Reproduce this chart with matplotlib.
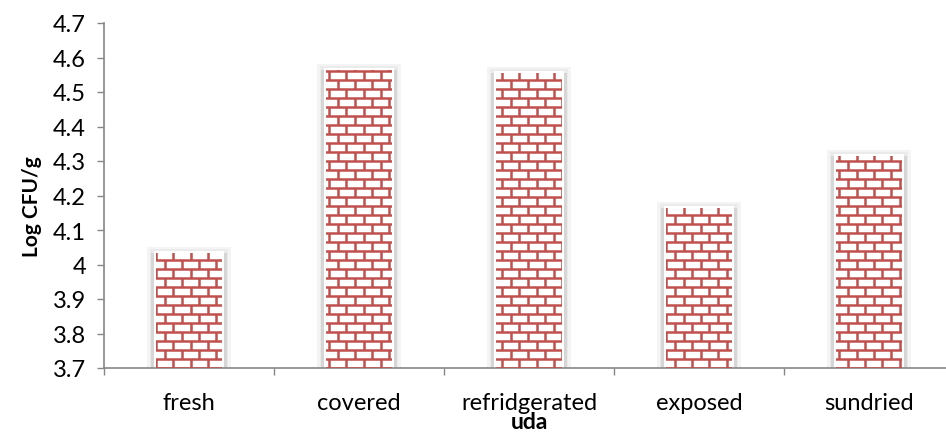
import numpy as np
import matplotlib
matplotlib.use("Agg")
import matplotlib.pyplot as plt
from matplotlib.patches import Rectangle
from matplotlib.collections import LineCollection
from matplotlib.transforms import IdentityTransform

categories = ["fresh", "covered", "refridgerated", "exposed", "sundried"]
log_cfu = [4.04, 4.57, 4.56, 4.17, 4.32]
y_ticks = [3.7, 3.8, 3.9, 4.0, 4.1, 4.2, 4.3, 4.4, 4.5, 4.6, 4.7]
y_tick_labels = ["3.7", "3.8", "3.9", "4", "4.1", "4.2", "4.3", "4.4", "4.5", "4.6", "4.7"]

W, H, DPI = 946, 435, 100
plt.rcParams["font.family"] = ["Lato", "DejaVu Sans"]

fig = plt.figure(figsize=(W / DPI, H / DPI), dpi=DPI)
ax_l, ax_b, ax_w, ax_h = 104, 66, 850, 345
ax = fig.add_axes([ax_l / W, ax_b / H, ax_w / W, ax_h / H])
ax.set_xlim(-0.5, len(categories) - 0.5)
ax.set_ylim(3.7, 4.7)

px_x = (len(categories)) / ax_w      # data units per pixel, x
px_y = 1.0 / ax_h                    # data units per pixel, y
base = 3.7
bar_w = 70 * px_x
brick_red = "#C0504D"

# brick grid in pixel space, covering the axes area
row_h, brick_w = 9.0, 17.3
segs = []
y = ax_b
row = 0
while y < ax_b + ax_h + row_h:
    segs.append([(ax_l, y), (ax_l + ax_w, y)])
    off = 0 if row % 2 == 0 else brick_w / 2
    x = ax_l + off
    while x < ax_l + ax_w:
        segs.append([(x, y), (x, y + row_h)])
        x += brick_w
    y += row_h
    row += 1

for i, v in enumerate(log_cfu):
    h = v - base
    # soft grey shadow around each bar
    ax.add_patch(Rectangle((i - bar_w / 2 - 7 * px_x, base), bar_w + 14 * px_x,
                           h + 4 * px_y, facecolor="#f4f4f4", edgecolor="none", zorder=1))
    ax.add_patch(Rectangle((i - bar_w / 2 - 4 * px_x, base), bar_w + 8 * px_x,
                           h + 2 * px_y, facecolor="#ebebeb", edgecolor="none", zorder=1.1))
    for side in (-1, 1):
        xs = i + side * (bar_w / 2 + 1.5 * px_x) - 1.5 * px_x
        ax.add_patch(Rectangle((xs, base), 3 * px_x, h - 2 * px_y,
                               facecolor="#d6d6d6", edgecolor="none", zorder=1.2))
    bar = Rectangle((i - bar_w / 2, base), bar_w, h, facecolor="white",
                    edgecolor="none", zorder=2)
    ax.add_patch(bar)
    inner = Rectangle((i - bar_w / 2 + 2 * px_x, base), bar_w - 4 * px_x, h - 2 * px_y,
                      transform=ax.transData)
    lc = LineCollection(segs, colors=brick_red, linewidths=1.8,
                        transform=IdentityTransform(), zorder=3)
    ax.add_collection(lc)
    lc.set_clip_path(inner)

# axes styling
for s in ["top", "right"]:
    ax.spines[s].set_visible(False)
for s in ["left", "bottom"]:
    ax.spines[s].set_color("#868686")
    ax.spines[s].set_linewidth(1.2)

ax.set_yticks(y_ticks)
ax.set_yticklabels(y_tick_labels, fontsize=17)
ax.tick_params(axis="y", length=5, color="#868686", width=1, pad=8)

ax.set_xticks(np.arange(-0.5, len(categories), 1.0))
ax.set_xticklabels([])
ax.tick_params(axis="x", which="major", length=5, color="#868686", width=1)
ax.set_xticks(np.arange(len(categories)), minor=True)
ax.set_xticklabels(categories, minor=True, fontsize=17)
ax.tick_params(axis="x", which="minor", length=0, pad=17)

ax.set_ylabel("Log CFU/g", fontsize=15, fontweight="bold")
ax.yaxis.set_label_coords(-0.073, 0.472)
fig.text((ax_l + ax_w / 2) / W, (H - 423) / H, "uda", ha="center", va="center",
         fontsize=16.5, fontweight="bold")

fig.savefig("out.png", dpi=DPI, facecolor="white")
